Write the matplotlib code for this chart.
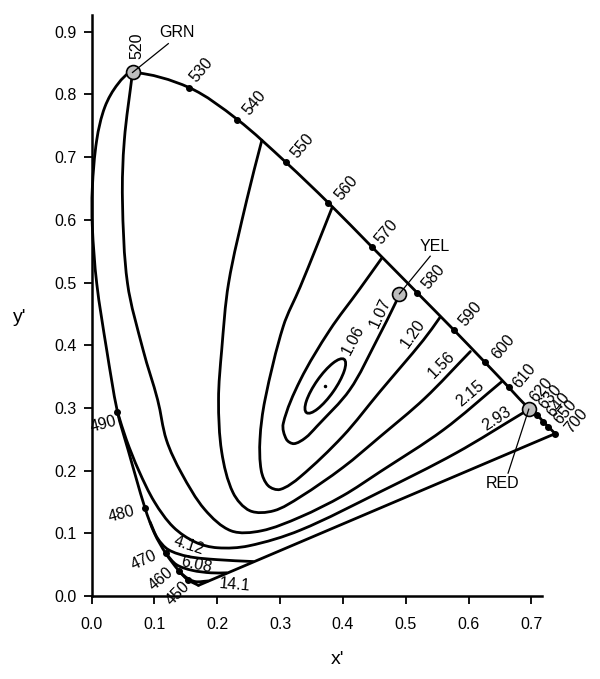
import numpy as np
import matplotlib
matplotlib.use("Agg")
import matplotlib.pyplot as plt
from matplotlib.path import Path
from matplotlib.patches import PathPatch, Ellipse

plt.rcParams['font.family'] = ['Liberation Sans', 'DejaVu Sans']

# spectral locus, from 700 nm round the green top down to the blue tip
locus_x = [0.738, 0.727, 0.719, 0.709, 0.697, 0.664, 0.626, 0.577, 0.518, 0.447, 0.377, 0.309,
           0.232, 0.155, 0.065, 0.042, 0.021, 0.008, 0.001, 0.001, 0.008, 0.024, 0.041, 0.058,
           0.085, 0.100, 0.118, 0.139, 0.153, 0.170]
locus_y = [0.259, 0.270, 0.278, 0.289, 0.298, 0.333, 0.373, 0.424, 0.484, 0.556, 0.627, 0.692,
           0.760, 0.811, 0.835, 0.817, 0.780, 0.727, 0.650, 0.590, 0.499, 0.392, 0.294, 0.233,
           0.140, 0.100, 0.068, 0.040, 0.026, 0.017]

# marked wavelengths
wl_names = ["450", "460", "470", "480", "490", "530", "540", "550", "560", "570", "580",
            "590", "600", "610", "630", "640", "650", "700"]
wl_x = [0.153, 0.139, 0.118, 0.085, 0.041, 0.155, 0.232, 0.309, 0.377, 0.447, 0.518,
        0.577, 0.626, 0.664, 0.709, 0.719, 0.727, 0.738]
wl_y = [0.026, 0.040, 0.068, 0.140, 0.294, 0.811, 0.760, 0.692, 0.627, 0.556, 0.484,
        0.424, 0.373, 0.333, 0.289, 0.278, 0.270, 0.259]

# primaries
prim_names = ["GRN", "YEL", "RED"]
prim_x = [0.065, 0.490, 0.696]
prim_y = [0.835, 0.482, 0.298]

# contour lines (ratio values)
c107_x = [0.462, 0.427, 0.379, 0.332, 0.305, 0.310, 0.322, 0.340, 0.358, 0.411, 0.454, 0.486, 0.490]
c107_y = [0.539, 0.490, 0.424, 0.344, 0.275, 0.250, 0.243, 0.252, 0.270, 0.329, 0.408, 0.472, 0.482]

c120_x = [0.383, 0.358, 0.332, 0.305, 0.276, 0.268, 0.270, 0.281, 0.300, 0.332, 0.400, 0.459, 0.528, 0.555]
c120_y = [0.620, 0.557, 0.493, 0.430, 0.313, 0.250, 0.200, 0.176, 0.170, 0.190, 0.255, 0.326, 0.408, 0.445]

c156_x = [0.271, 0.247, 0.218, 0.207, 0.202, 0.207, 0.225, 0.252, 0.290, 0.332, 0.400, 0.459, 0.530, 0.603]
c156_y = [0.727, 0.632, 0.499, 0.392, 0.313, 0.230, 0.165, 0.136, 0.136, 0.158, 0.205, 0.254, 0.315, 0.390]

c215_x = [0.065, 0.052, 0.049, 0.057, 0.082, 0.105, 0.119, 0.143, 0.180, 0.222, 0.270, 0.332, 0.400, 0.459, 0.560, 0.653]
c215_y = [0.835, 0.727, 0.632, 0.499, 0.392, 0.313, 0.249, 0.196, 0.138, 0.104, 0.104, 0.126, 0.160, 0.198, 0.265, 0.342]

c293_x = [0.041, 0.055, 0.075, 0.100, 0.130, 0.165, 0.200, 0.250, 0.332, 0.459, 0.580, 0.690]
c293_y = [0.294, 0.250, 0.200, 0.150, 0.110, 0.086, 0.077, 0.080, 0.105, 0.166, 0.228, 0.294]

c412_x = [0.093, 0.105, 0.122, 0.154, 0.200, 0.257]
c412_y = [0.118, 0.092, 0.074, 0.063, 0.058, 0.055]

c608_x = [0.118, 0.135, 0.160, 0.190, 0.215]
c608_y = [0.068, 0.050, 0.041, 0.037, 0.037]

c141_x = [0.139, 0.150, 0.165, 0.185]
c141_y = [0.040, 0.030, 0.023, 0.024]

ell_center = (0.372, 0.335)
ell_len, ell_wid, ell_ang = 0.104, 0.031, 55

contour_names = ["1.06", "1.07", "1.20", "1.56", "2.15", "2.93", "4.12", "6.08", "14.1"]


def smooth(xs, ys):
    # cubic bezier through the points, tangents weighted by chord length
    p = np.column_stack([xs, ys])
    n = len(p)
    verts = [p[0]]
    codes = [Path.MOVETO]
    d = np.hypot(*np.diff(p, axis=0).T)
    for i in range(n - 1):
        p1, p2 = p[i], p[i + 1]
        if i > 0:
            t1 = (p2 - p[i - 1]) * d[i] / (d[i - 1] + d[i])
        else:
            t1 = p2 - p1
        if i + 2 < n:
            t2 = (p[i + 2] - p1) * d[i] / (d[i] + d[i + 1])
        else:
            t2 = p2 - p1
        verts += [p1 + t1 / 3, p2 - t2 / 3, p2]
        codes += [Path.CURVE4] * 3
    return Path(verts, codes)


fig = plt.figure(figsize=(6, 6.79), dpi=100)
ax = fig.add_axes([0.1528, 0.1222, 0.7505, 0.856])
ax.set_xlim(0, 0.717)
ax.set_ylim(0, 0.927)

lw = 2.0
fs = 11.5


def draw(xs, ys):
    ax.add_patch(PathPatch(smooth(xs, ys), fill=False, lw=lw, ec='black',
                           clip_on=False, capstyle='round', joinstyle='round'))


draw(locus_x, locus_y)
ax.plot([locus_x[-1], locus_x[0]], [locus_y[-1], locus_y[0]], color='black', lw=lw,
        clip_on=False, solid_capstyle='round')
for cx, cy in [(c107_x, c107_y), (c120_x, c120_y), (c156_x, c156_y), (c215_x, c215_y),
               (c293_x, c293_y), (c412_x, c412_y), (c608_x, c608_y), (c141_x, c141_y)]:
    draw(cx, cy)
ax.add_patch(Ellipse(ell_center, ell_len, ell_wid, angle=ell_ang, fill=False, lw=lw, ec='black'))
ax.plot(*ell_center, 'o', color='black', ms=1.5)

ax.plot(wl_x, wl_y, 'o', color='black', ms=4, clip_on=False, zorder=4)

# wavelength labels: offsets in points and rotation
wl_off = [(-7, -10), (-13, -6), (-16, -5), (-17, -4), (-10, -9), (9, 13), (12, 12), (12, 12),
          (13, 11), (10, 11), (12, 11), (12, 12), (13, 11), (11, 8), (10, 13), (11, 12),
          (12, 11), (15, 9)]
wl_rot = [45, 40, 25, 15, 15, 50, 50, 50, 50, 50, 50, 50, 50, 50, 50, 50, 50, 50]
for name, x, y, off, r in zip(wl_names, wl_x, wl_y, wl_off, wl_rot):
    ax.annotate(name, (x, y), xytext=off, textcoords='offset points', fontsize=fs,
                rotation=r, ha='center', va='center', rotation_mode='anchor',
                annotation_clip=False)

# primaries
ax.plot(prim_x, prim_y, 'o', ms=10, mfc='#bdbdbd', mec='black', mew=1.2, clip_on=False, zorder=5)
prim_txt = [(0.136, 0.899), (0.546, 0.557), (0.655, 0.180)]
prim_lead = [(0.122, 0.881), (0.539, 0.542), (0.663, 0.196)]
for name, x, y, t, l in zip(prim_names, prim_x, prim_y, prim_txt, prim_lead):
    ax.plot([x, l[0]], [y, l[1]], color='black', lw=0.9, clip_on=False, zorder=6)
    ax.text(t[0], t[1], name, fontsize=fs, ha='center', va='center')
ax.annotate("520", (prim_x[0], prim_y[0]), xytext=(3, 19), textcoords='offset points',
            fontsize=fs, rotation=90, ha='center', va='center', annotation_clip=False)
ax.annotate("620", (prim_x[2], prim_y[2]), xytext=(9, 14), textcoords='offset points',
            fontsize=fs, rotation=50, ha='center', va='center', rotation_mode='anchor',
            annotation_clip=False)

# contour value labels
lab_pos = [(0.416, 0.408), (0.459, 0.451), (0.512, 0.419), (0.557, 0.368), (0.602, 0.323),
           (0.645, 0.283), (0.154, 0.081), (0.167, 0.049), (0.228, 0.018)]
lab_rot = [62, 65, 55, 45, 40, 33, -18, -12, -5]
for name, p, r in zip(contour_names, lab_pos, lab_rot):
    ax.text(p[0], p[1], name, fontsize=fs, rotation=r, ha='center', va='center',
            rotation_mode='anchor')

for s in ['top', 'right']:
    ax.spines[s].set_visible(False)
for s in ['left', 'bottom']:
    ax.spines[s].set_linewidth(1.8)
ticks_x = np.arange(0, 0.71, 0.1)
ticks_y = np.arange(0, 0.91, 0.1)
ax.set_xticks(ticks_x)
ax.set_yticks(ticks_y)
ax.set_xticklabels([f"{v:.1f}" for v in ticks_x])
ax.set_yticklabels([f"{v:.1f}" for v in ticks_y])
ax.tick_params(direction='out', length=6, width=1.3, labelsize=fs)
ax.tick_params(axis='x', pad=9)
ax.tick_params(axis='y', pad=5)
fig.text(0.563, 0.028, "x'", fontsize=14, ha='center', va='center')
fig.text(0.033, 0.532, "y'", fontsize=14, ha='center', va='center')

fig.savefig("out.png", dpi=100)
